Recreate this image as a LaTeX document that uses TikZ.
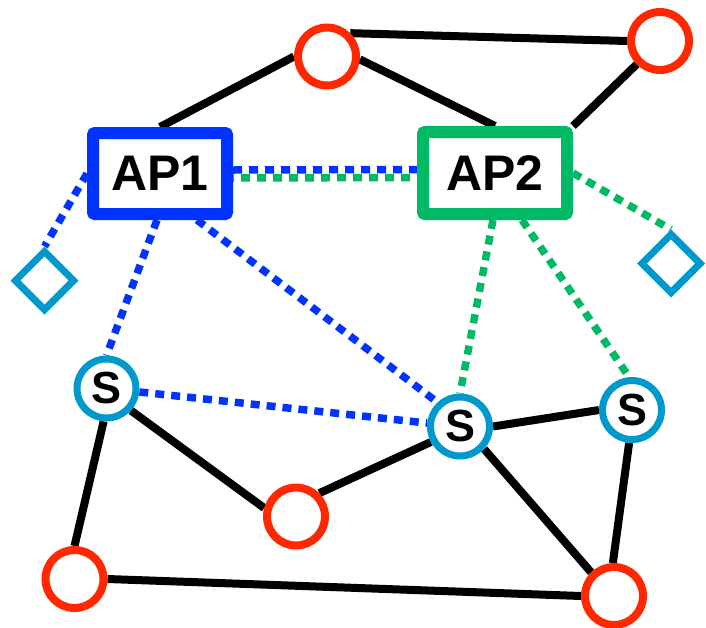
\documentclass[tikz,border=0pt]{standalone}
\usepackage{fontspec}
\setmainfont{Liberation Sans}
\usetikzlibrary{shapes.geometric,calc,backgrounds}
\definecolor{cred}{RGB}{255,40,0}
\definecolor{cblue}{RGB}{0,51,255}
\definecolor{cgreen}{RGB}{0,185,100}
\definecolor{cteal}{RGB}{0,153,204}
\tikzset{
  rednode/.style={circle,draw=cred,line width=8pt,fill=white,minimum size=58pt,inner sep=0pt},
  snode/.style={circle,draw=cteal,line width=7pt,fill=white,minimum size=59pt,inner sep=0pt,
     font=\bfseries\fontsize{45}{50}\selectfont},
  apbox/.style={rectangle,line width=12pt,fill=white,rounded corners=2pt,inner sep=0pt,
     font=\bfseries\fontsize{50}{60}\selectfont},
  dnode/.style={diamond,draw=cteal,line width=7pt,fill=white,minimum width=61pt,minimum height=61pt,inner sep=0pt,aspect=1},
  wire/.style={line width=8pt,draw=black},
  bdot/.style={line width=7.5pt,draw=cblue,dash pattern=on 9pt off 7pt},
  gdot/.style={line width=7.5pt,draw=cgreen,dash pattern=on 9pt off 7pt}
}
\begin{document}
\begin{tikzpicture}[x=1pt,y=-1pt]
\useasboundingbox (0,0) rectangle (706,627);
% nodes
\node[apbox,draw=cblue,minimum width=134pt,minimum height=81pt] (ap1) at (160,173.5) {AP1};
\node[apbox,draw=cgreen,minimum width=144pt,minimum height=82pt] (ap2) at (495,173) {AP2};
\node[rednode] (tc) at (327,56.5) {};
\node[rednode] (tr) at (660,41) {};
\node[rednode] (rm) at (296,516.5) {};
\node[rednode] (bl) at (74.5,579) {};
\node[rednode] (br) at (614,596) {};
\node[snode] (s1) at (106.5,388.5) {S};
\node[snode] (s2) at (460,426.5) {S};
\node[snode] (s3) at (632,410) {S};
\node[dnode] (dl) at (44.5,280.5) {};
\node[dnode] (dr) at (671,263.5) {};
\begin{pgfonlayer}{background}
% black links
\draw[wire] (ap1.north) -- (tc.west);
\draw[wire] (tc.45) -- (tr.west);
\draw[wire] (tc.-5) -- (ap2.north);
\draw[wire] (tr.225) -- (ap2.north east);
\draw[wire] (s1.-42) -- (rm.165);
\draw[wire] (s1.-95) -- (bl.north);
\draw[wire] (bl.east) -- (br.west);
\draw[wire] (rm.45) -- (s2.208);
\draw[wire] (s2.east) -- (s3.west);
\draw[wire] (s2.-43) -- (br.134);
\draw[wire] (s3.-95) -- (br.92);
% blue dotted
\draw[bdot] (ap1.west) -- (dl.north);
\draw[bdot] ($(ap1.south)+(-3,0)$) -- (s1.north);
\draw[bdot] ($(ap1.south)+(37,0)$) -- (s2.133);
\draw[bdot] (s1.-6) -- (s2.174);
\draw[bdot] ($(ap1.east)+(0,-3.5)$) -- ($(ap2.west)+(0,-3.5)$);
% green dotted
\draw[gdot,dash phase=8pt] ($(ap1.east)+(0,4.5)$) -- ($(ap2.west)+(0,4.5)$);
\draw[gdot] ($(ap2.south)+(-2,0)$) -- (s2.north);
\draw[gdot] ($(ap2.south)+(27,0)$) -- (s3.95);
\draw[gdot] (ap2.east) -- (dr.north);
\end{pgfonlayer}
\end{tikzpicture}
\end{document}
